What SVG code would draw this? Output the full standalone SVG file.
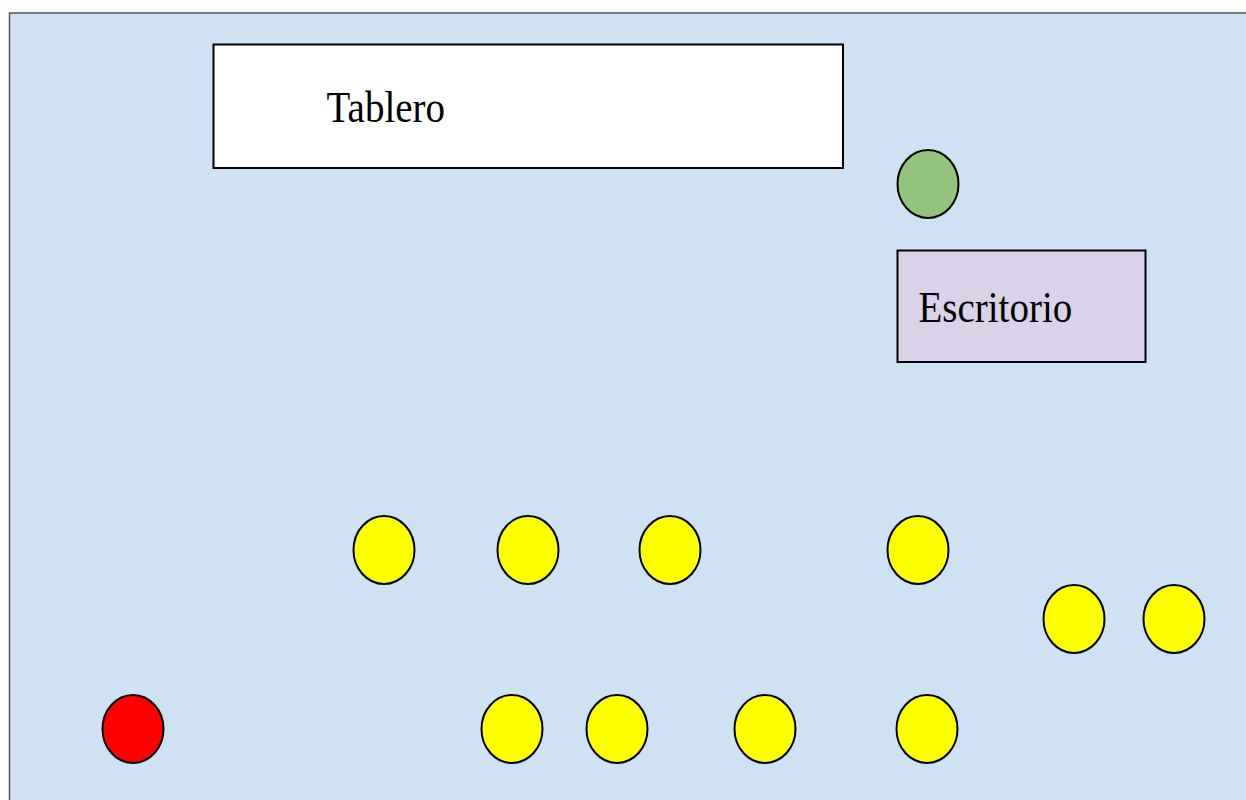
<svg xmlns="http://www.w3.org/2000/svg" width="1246" height="800" viewBox="0 0 1246 800">
<style>
.dot{stroke:#000;stroke-width:2}
.y{fill:#ffff00}
.lbl{font-family:"Liberation Serif",serif;font-size:39px;fill:#000}
.box{stroke:#000;stroke-width:2}
</style>
<rect x="9.5" y="13" width="1250" height="800" fill="#cfe2f3" stroke="#555" stroke-width="1.5"/>
<g id="tablero"><rect class="box" x="213.5" y="44.5" width="629.5" height="123.5" fill="#ffffff"/><text class="lbl" transform="translate(326.5,122) scale(1,1.12)">Tablero</text></g>
<g id="profesor"><ellipse class="dot" cx="928" cy="184" rx="30.5" ry="34" fill="#93c47d"/></g>
<g id="escritorio"><rect class="box" x="897.5" y="250.5" width="248" height="111.5" fill="#d9d2e9"/><text class="lbl" transform="translate(918.5,322) scale(1,1.12)">Escritorio</text></g>
<g id="rojo"><ellipse class="dot" cx="133" cy="729" rx="30.5" ry="34" fill="#ff0000"/></g>
<g id="e1"><ellipse class="dot y" cx="384" cy="550" rx="30.5" ry="34"/></g>
<g id="e2"><ellipse class="dot y" cx="528" cy="550" rx="30.5" ry="34"/></g>
<g id="e3"><ellipse class="dot y" cx="670" cy="550" rx="30.5" ry="34"/></g>
<g id="e4"><ellipse class="dot y" cx="918" cy="550" rx="30.5" ry="34"/></g>
<g id="e5"><ellipse class="dot y" cx="1074" cy="619" rx="30.5" ry="34"/></g>
<g id="e6"><ellipse class="dot y" cx="1174" cy="619" rx="30.5" ry="34"/></g>
<g id="e7"><ellipse class="dot y" cx="512" cy="729" rx="30.5" ry="34"/></g>
<g id="e8"><ellipse class="dot y" cx="617" cy="729" rx="30.5" ry="34"/></g>
<g id="e9"><ellipse class="dot y" cx="765" cy="729" rx="30.5" ry="34"/></g>
<g id="e10"><ellipse class="dot y" cx="927" cy="729" rx="30.5" ry="34"/></g>
<g id="connectors"></g>
</svg>
